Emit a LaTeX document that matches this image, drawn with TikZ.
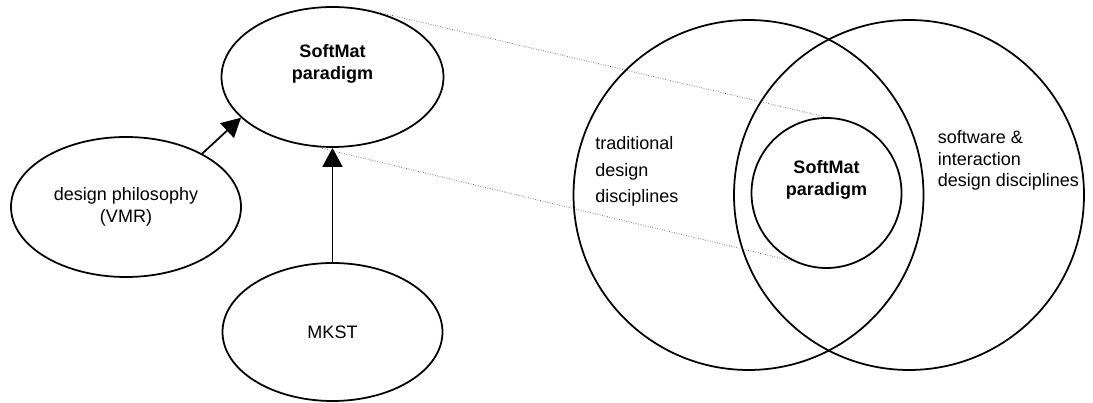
\documentclass[tikz,border=0pt]{standalone}
\usepackage{fontspec}
\setmainfont{Liberation Sans}
\usepackage{tikz}
\usetikzlibrary{shapes,positioning,arrows.meta}

\begin{document}
\begin{tikzpicture}[
    font=\fontsize{10.25}{12.5}\selectfont,
    oval/.style ={
        ellipse,
        draw=black,
        line width=1pt,
        inner sep=0pt,
        minimum width=4.44cm,
        minimum height=2.8cm,
        align=center
    },
    ring/.style ={
        circle,
        draw=black,
        line width=1pt,
        inner sep=0pt
    },
    title/.style ={
        font=\fontsize{10.25}{12.5}\selectfont\bfseries,
        align=center,
        yshift=0.26cm
    },
    txt/.style ={
        anchor=west,
        inner sep=0pt,
        align=left
    },
    arr/.style ={
        -{Triangle[length=0.38cm,width=0.4cm]},
        line width=1pt
    },
    zoomline/.style ={
        black!65,
        line width=0.4pt,
        densely dotted
    }
    ]
    \useasboundingbox (0,0) rectangle (21.86,8.06);

    % left part
    \node[oval,label={[title]center:SoftMat\\paradigm}] (sm) at (6.65,6.52) {};
    \node[oval,minimum width=4.6cm] (dp) at (2.52,3.92) {design philosophy\\(VMR)};
    \node[oval,minimum width=4.4cm,minimum height=2.76cm] (mk) at (6.65,1.42) {MKST};

    \draw[arr] (dp.35) -- (sm.204);
    \draw[arr] (mk) -- (sm);

    % venn part
    \node[ring,minimum size=7cm] (lc) at (14.97,4.16) {};
    \node[ring,minimum size=7cm] (rc) at (18.18,4.16) {};
    \node[ring,minimum size=3cm,label={[title]center:SoftMat\\paradigm}] (sc) at (16.53,4.2) {};

    \node[txt,font=\fontsize{10.25}{15.1}\selectfont] (trad) at (11.9,4.63) {traditional\\design\\disciplines};
    \node[txt,font=\fontsize{10.25}{12.2}\selectfont] (soft) at (18.75,4.85) {software \&\\interaction\\design disciplines};

    \draw[zoomline] (sm.62) -- (sc.north);
    \draw[zoomline] (sm.-102) -- (sc.-116);
\end{tikzpicture}
\end{document}
